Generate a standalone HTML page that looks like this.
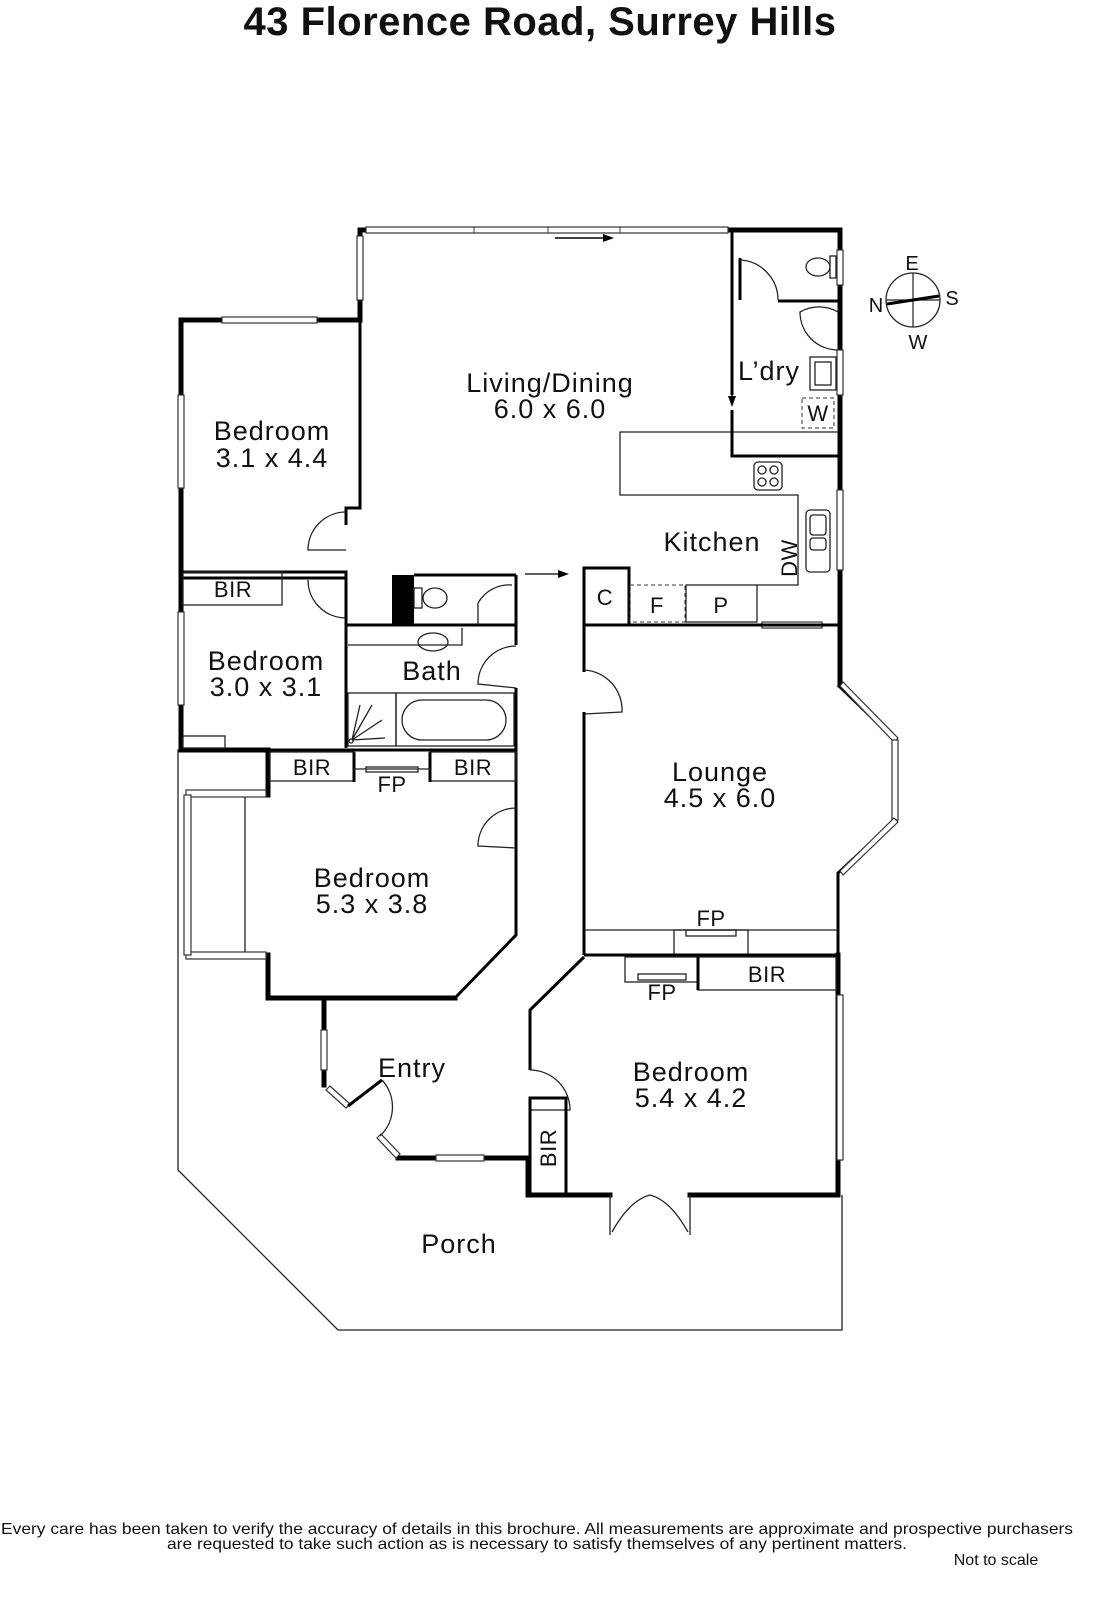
<!DOCTYPE html>
<html><head><meta charset="utf-8"><style>
html,body{margin:0;padding:0;background:#fff}
svg{display:block}
text{font-family:"Liberation Sans",sans-serif;fill:#111}
.l{font-size:27px;text-anchor:middle;letter-spacing:1px}
.s{font-size:22px;text-anchor:middle;letter-spacing:0.5px}
.w{stroke:#000;stroke-width:5;fill:none;stroke-linecap:square}
.m{stroke:#000;stroke-width:3;fill:none}
.t{stroke:#222;stroke-width:1.3;fill:none}
.win{fill:#fff;stroke:#333;stroke-width:1.2}
</style></head><body>
<svg width="1096" height="1600" viewBox="0 0 1096 1600" xmlns="http://www.w3.org/2000/svg">
<text x="540" y="35" style="font-size:40px;font-weight:bold;text-anchor:middle;letter-spacing:0.5px">43 Florence Road, Surrey Hills</text>

<polyline class="t" points="268,750 178,750 178,1170 338,1330 842,1330 842,1195"/>

<polyline class="w" points="360,320 360,230 840,230 840,685"/>
<polyline class="w" points="360,320 181,320 181,750 268,750 268,795"/>
<polyline class="w" points="268,955 268,998 455,998"/>
<polyline class="m" points="455,998 516,935 516,780"/>
<polyline class="w" points="324,998 324,1085"/>
<polyline class="w" points="398,1158 528,1158 528,1195 610,1195"/>
<polyline class="w" points="690,1195 838,1195 838,955"/>
<polyline class="m" points="838,685 895,740 895,820 838,873 838,955"/>
<polyline class="t" points="610,1195 610,1235"/><polyline class="t" points="690,1195 690,1235"/>
<path class="t" d="M612,1232 Q630,1200 650,1195 M688,1232 Q670,1200 650,1195"/>
<rect class="win" x="366" y="227" width="362" height="6"/>
<line x1="474" y1="227" x2="474" y2="233" stroke="#333"/><line x1="548" y1="227" x2="548" y2="233" stroke="#333"/><line x1="620" y1="227" x2="620" y2="233" stroke="#333"/>
<path d="M555,238 L605,238" stroke="#000" stroke-width="1.5"/><polygon points="603,234 614,238 603,242"/>
<rect class="win" x="357" y="236" width="6" height="64"/>
<rect class="win" x="222" y="317" width="95" height="6"/>
<rect class="win" x="178" y="395" width="6" height="93"/>
<rect class="win" x="178" y="612" width="6" height="93"/>
<rect class="win" x="837" y="250" width="6" height="35"/>
<rect class="win" x="837" y="350" width="6" height="45"/>
<rect class="win" x="837" y="490" width="6" height="80"/>
<rect class="win" x="762" y="622" width="60" height="6"/>
<rect class="win" x="837" y="995" width="6" height="165"/>
<rect class="win" x="321" y="1030" width="6" height="40"/>
<rect class="win" x="436" y="1155" width="48" height="6"/>
<polygon class="win" points="326,1090 330,1086 350,1104 346,1108"/>
<polygon class="win" points="377,1138 381,1134 400,1154 396,1158"/>
<line class="m" x1="348" y1="1106" x2="382" y2="1080"/>
<path class="t" d="M382,1080 A40,40 0 0 1 380,1136"/>
<polygon class="win" points="840,686 843,682 898,738 894,742"/>
<rect class="win" x="892" y="740" width="6" height="80"/>
<polygon class="win" points="840,871 843,875 898,822 894,818"/>
<polyline class="t" points="268,795 186,795 186,955 268,955"/>
<rect class="win" x="186" y="790" width="80" height="7"/><rect class="win" x="186" y="952" width="80" height="7"/>
<rect class="win" x="184" y="795" width="7" height="160"/>
<line class="t" x1="245" y1="797" x2="245" y2="952"/>

<polyline class="m" points="360,320 360,508 346,508 346,525"/>
<path class="t" d="M346,512 A38,38 0 0 0 308,550 L346,550"/>
<polyline class="m" points="181,572 346,572 346,578 181,578"/>
<path class="t" d="M308,580 A38,38 0 0 0 346,618"/>
<polyline class="m" points="346,578 346,748"/>
<rect class="t" x="183" y="572" width="99" height="33"/>
<text class="s" x="233" y="597">BIR</text>
<rect class="t" x="183" y="736" width="42" height="12"/>
<rect x="392" y="575" width="22" height="50" fill="#000"/>
<line class="m" x1="346" y1="625" x2="516" y2="625"/>
<line class="m" x1="414" y1="575" x2="516" y2="575"/>
<ellipse class="t" cx="435" cy="598" rx="12" ry="10"/><rect class="t" x="414" y="588" width="8" height="20"/>
<path class="t" d="M478,625 L478,603 A36,36 0 0 1 512,585"/>
<line class="m" x1="516" y1="575" x2="516" y2="645"/>
<path class="t" d="M516,646 A38,38 0 0 0 478,684 L516,688"/>
<polyline class="m" points="516,688 516,780"/>
<polyline class="t" points="348,645 462,645 462,628"/><ellipse class="t" cx="433" cy="642" rx="15" ry="9"/>
<rect class="t" x="348" y="693" width="48" height="53"/>
<rect class="t" x="396" y="693" width="118" height="53"/>
<rect class="t" x="402" y="700" width="104" height="40" rx="20"/>
<path class="t" d="M352,740 L360,705 M352,740 L372,705 M352,740 L382,720 M352,740 L385,738"/><circle class="t" cx="351" cy="741" r="2"/>
<line class="m" x1="181" y1="750" x2="516" y2="750"/>
<line class="m" x1="268" y1="750" x2="268" y2="782"/>
<rect class="t" x="270" y="752" width="84" height="29"/><text class="s" x="312" y="775">BIR</text>
<rect class="t" x="430" y="752" width="86" height="29"/><text class="s" x="473" y="775">BIR</text>
<line class="m" x1="354" y1="752" x2="354" y2="782"/><line class="m" x1="430" y1="752" x2="430" y2="782"/>
<rect class="t" x="366" y="767" width="52" height="5"/><line class="t" x1="354" y1="769" x2="430" y2="769"/>
<text class="s" x="392" y="792">FP</text>
<path class="t" d="M516,808 A38,38 0 0 0 478,846 L516,848"/>

<polyline class="m" points="584,568 584,672"/>
<path class="t" d="M584,670 A40,40 0 0 1 622,712 L584,714"/>
<polyline class="m" points="584,712 584,955"/>
<path d="M525,574 L560,574" stroke="#000" stroke-width="1.3"/><polygon points="558,570 569,574 558,578"/>
<rect class="m" x="584" y="568" width="45" height="57"/><text class="s" x="605" y="605">C</text>
<rect x="630" y="585" width="55" height="37" fill="none" stroke="#333" stroke-dasharray="4,3"/><text class="s" x="657" y="613">F</text>
<rect class="t" x="686" y="585" width="71" height="37"/><text class="s" x="721" y="613">P</text>
<line class="m" x1="629" y1="625" x2="838" y2="625"/>
<polyline class="t" points="757,585 798,585 798,495 620,495 620,432 838,432"/>
<rect class="t" x="754" y="462" width="28" height="28" rx="4"/>
<circle class="t" cx="762" cy="470" r="4"/><circle class="t" cx="774" cy="470" r="4"/><circle class="t" cx="762" cy="482" r="4"/><circle class="t" cx="774" cy="482" r="4"/>
<rect class="t" x="806" y="510" width="24" height="62" rx="4"/><rect class="t" x="810" y="515" width="16" height="20" rx="3"/><rect class="t" x="810" y="538" width="16" height="12" rx="3"/>
<text class="s" x="797" y="558" transform="rotate(-90 797 558)">DW</text>
<polyline class="m" points="732,230 732,395"/><polyline class="m" points="732,410 732,456 838,456"/>
<path d="M732,360 L732,398" stroke="#000" stroke-width="1.3"/><polygon points="728,396 732,407 736,396"/>
<polyline class="m" points="740,300 740,258"/>
<path class="t" d="M740,260 A40,40 0 0 1 778,300"/>
<line class="m" x1="778" y1="301" x2="838" y2="301"/>
<ellipse class="t" cx="818" cy="267" rx="12" ry="9"/><rect class="t" x="830" y="256" width="6" height="22"/>
<path class="t" d="M838,312 A38,38 0 0 0 800,312 A38,38 0 0 0 838,350"/>
<rect class="t" x="810" y="357" width="26" height="33"/><rect class="t" x="815" y="362" width="16" height="23"/>
<rect x="802" y="398" width="32" height="30" fill="none" stroke="#333" stroke-dasharray="4,3"/><text class="s" x="818" y="421">W</text>

<line class="t" x1="584" y1="930" x2="838" y2="930"/><rect class="t" x="674" y="930" width="74" height="25"/><rect class="t" x="686" y="930" width="50" height="6"/>
<text class="s" x="711" y="926">FP</text>
<line class="m" x1="584" y1="955" x2="838" y2="955"/>
<polyline class="m" points="584,957 530,1010 530,1070"/>
<path class="t" d="M530,1070 A40,40 0 0 1 570,1110 L530,1110"/>
<rect class="m" x="530" y="1098" width="36" height="97"/>
<text class="s" x="556" y="1148" transform="rotate(-90 556 1148)">BIR</text>
<rect class="t" x="625" y="957" width="73" height="25"/><rect class="t" x="638" y="974" width="48" height="6"/><text class="s" x="662" y="1000">FP</text>
<rect class="t" x="698" y="957" width="138" height="33"/><line class="m" x1="698" y1="957" x2="698" y2="990"/><text class="s" x="767" y="982">BIR</text>

<text class="l" x="550" y="392">Living/Dining</text><text class="l" x="550" y="418">6.0 x 6.0</text>
<text class="l" x="272" y="440">Bedroom</text><text class="l" x="272" y="467">3.1 x 4.4</text>
<text class="l" x="266" y="670">Bedroom</text><text class="l" x="266" y="696">3.0 x 3.1</text>
<text class="l" x="432" y="680">Bath</text>
<text class="l" x="769" y="380">L’dry</text>
<text class="l" x="712" y="551">Kitchen</text>
<text class="l" x="720" y="781">Lounge</text><text class="l" x="720" y="807">4.5 x 6.0</text>
<text class="l" x="372" y="887">Bedroom</text><text class="l" x="372" y="913">5.3 x 3.8</text>
<text class="l" x="412" y="1077">Entry</text>
<text class="l" x="691" y="1081">Bedroom</text><text class="l" x="691" y="1107">5.4 x 4.2</text>
<text class="l" x="459" y="1253">Porch</text>

<g transform="translate(913,300)">
<circle r="27" fill="none" stroke="#222" stroke-width="1.3"/>
<line x1="-27" y1="0" x2="27" y2="0" stroke="#222" stroke-width="1.2"/><line x1="0" y1="-27" x2="0" y2="27" stroke="#222" stroke-width="1.2"/>
<line x1="-26" y1="4" x2="26" y2="-4" stroke="#000" stroke-width="3"/>
</g>
<text x="912" y="270" style="font-size:20px;text-anchor:middle">E</text>
<text x="952" y="305" style="font-size:20px;text-anchor:middle">S</text>
<text x="876" y="312" style="font-size:20px;text-anchor:middle">N</text>
<text x="918" y="349" style="font-size:20px;text-anchor:middle">W</text>

<text x="537" y="1534" style="font-size:16px;text-anchor:middle" textLength="1072" lengthAdjust="spacingAndGlyphs">Every care has been taken to verify the accuracy of details in this brochure.  All measurements are approximate and prospective purchasers</text>
<text x="537" y="1549" style="font-size:16px;text-anchor:middle" textLength="740" lengthAdjust="spacingAndGlyphs">are requested to take such action as is necessary to satisfy themselves of any pertinent matters.</text>
<text x="996" y="1565" style="font-size:16px;text-anchor:middle">Not to scale</text>
</svg>
</body></html>
